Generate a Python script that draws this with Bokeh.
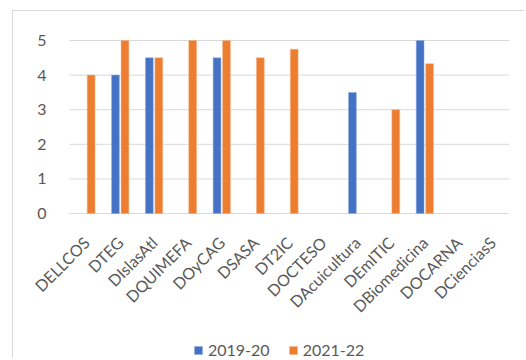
import math
import numpy as np
from bokeh.plotting import figure
from bokeh.models import (ColumnDataSource, Range1d, Legend, LegendItem, LinearAxis,
                          FixedTicker)
from bokeh.transform import dodge
from bokeh.embed import file_html
from bokeh.resources import INLINE

categories = ["DELLCOS", "DTEG", "DIslasAtl", "DQUIMEFA", "DOyCAG", "DSASA", "DT2IC",
              "DOCTESO", "DAcuicultura", "DEmITIC", "DBiomedicina", "DOCARNA", "DCienciasS"]
s2019 = [np.nan, 4, 4.5, np.nan, 4.5, np.nan, np.nan, np.nan, 3.5, np.nan, 5, np.nan, np.nan]
s2021 = [4, 5, 4.5, 5, 5, 4.5, 4.75, np.nan, np.nan, 3, 4.33, np.nan, np.nan]
series_names = ["2019-20", "2021-22"]
colors = ["#4472C4", "#ED7D31"]
y_ticks = [0, 1, 2, 3, 4, 5]

n = len(categories)
idx = list(range(n))
src = ColumnDataSource(dict(i=idx, cat=categories, a=s2019, b=s2021))

FONT = "Lato"
TXT = "#595959"
GRID = "#d9d9d9"
# category i occupies [i-0.5, i+0.5]; the frame is widened to the left, above 5 and
# below 0 so that the tilted labels, the value labels and the legend are not clipped
p = figure(width=512, height=348, x_range=Range1d(-2.153, n - 0.5), y_range=Range1d(-4.22, 5.434),
           output_backend="svg", toolbar_location=None,
           x_axis_location=None, y_axis_location=None,
           min_border_left=0, min_border_right=16, min_border_top=14, min_border_bottom=0)
p.styles = {"position": "relative", "left": "12px", "top": "10px",
            "border-left": "1px solid #d9d9d9", "border-top": "1px solid #d9d9d9"}
p.outline_line_color = None
p.background_fill_color = "white"
p.border_fill_color = "white"
p.xgrid.visible = False
p.ygrid.visible = False

# horizontal gridlines across the category area
grid_src = ColumnDataSource(dict(y=y_ticks, x0=[-0.5] * len(y_ticks), x1=[n - 0.5] * len(y_ticks)))
p.segment(x0="x0", x1="x1", y0="y", y1="y", source=grid_src, line_color=GRID, line_width=1)

r1 = p.vbar(x=dodge("i", -0.14), top="a", width=0.23, source=src,
            fill_color=colors[0], line_color="#8fa9dc", line_width=0.5)
r2 = p.vbar(x=dodge("i", 0.14), top="b", width=0.23, source=src,
            fill_color=colors[1], line_color="#f4b183", line_width=0.5)

# value axis pinned at the left edge of the category area
yax = LinearAxis(ticker=FixedTicker(ticks=y_ticks), fixed_location=-0.5)
# category axis pinned at y = 0
xax = LinearAxis(ticker=FixedTicker(ticks=idx), fixed_location=0,
                 major_label_overrides={i: c for i, c in zip(idx, categories)})
for ax in (xax, yax):
    ax.axis_line_color = None
    ax.major_tick_line_color = None
    ax.minor_tick_line_color = None
    ax.major_label_text_font = FONT
    ax.major_label_text_color = TXT
yax.major_label_text_font_size = "16px"
yax.major_label_standoff = 17
xax.major_label_orientation = math.pi / 4
xax.major_label_text_font_size = "16px"
xax.major_label_standoff = 20
p.add_layout(yax, "left")
p.add_layout(xax, "below")

legend = Legend(items=[LegendItem(label=series_names[0], renderers=[r1]),
                       LegendItem(label=series_names[1], renderers=[r2])],
                orientation="horizontal", location=(180, 0),
                label_text_font=FONT, label_text_font_size="16px", label_text_color=TXT,
                glyph_width=10, glyph_height=10, label_standoff=5, spacing=18,
                label_height=16, padding=0, margin=0, border_line_color=None,
                background_fill_alpha=0)
p.add_layout(legend, "center")

open("out.html", "w").write(file_html(p, INLINE))
